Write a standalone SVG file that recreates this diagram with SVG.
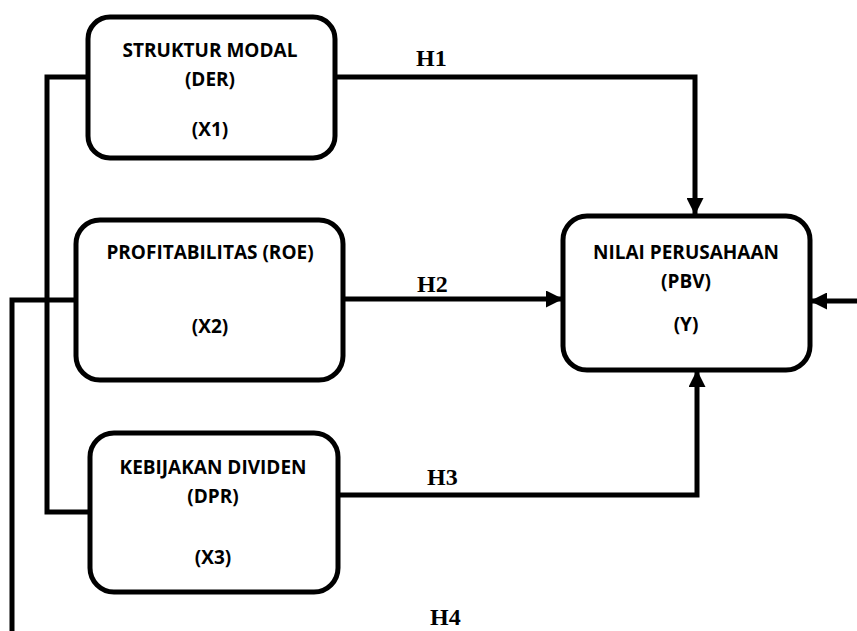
<svg xmlns="http://www.w3.org/2000/svg" width="857" height="631" viewBox="0 0 857 631">
<style>
.box{fill:#fff;stroke:#000;stroke-width:5}
.t{font-family:"Open Sans","Liberation Sans",sans-serif;font-weight:bold;font-size:19px;text-anchor:middle;fill:#000}
.h{font-family:"Liberation Serif",serif;font-weight:bold;font-size:24px;fill:#000}
.c{fill:none;stroke:#000;stroke-width:5}
</style>
<defs>
<marker id="arr" viewBox="0 0 10 10" refX="10" refY="5" markerWidth="3.4" markerHeight="3.4" orient="auto" markerUnits="strokeWidth">
<path d="M0,0 L10,5 L0,10 z" fill="#000"/>
</marker>
</defs>
<rect width="857" height="631" fill="#fff"/>
<g id="connectors">
<polyline class="c" points="88,77 47,77 47,512 90,512"/>
<polyline class="c" points="76,300 12,300 12,631"/>
<polyline class="c" points="335,77 695,77 695,215" marker-end="url(#arr)"/>
<line class="c" x1="343" y1="299" x2="563" y2="299" marker-end="url(#arr)"/>
<polyline class="c" points="338,495 697,495 697,370" marker-end="url(#arr)"/>
<line class="c" x1="857" y1="301" x2="810" y2="301" marker-end="url(#arr)"/>
<text class="h" x="416" y="66">H1</text>
<text class="h" x="417" y="292">H2</text>
<text class="h" x="427" y="485">H3</text>
<text class="h" x="430" y="625">H4</text>
</g>
<g id="x1">
<rect class="box" x="88" y="17" width="247" height="141" rx="22"/>
<text class="t" x="210" y="57">STRUKTUR MODAL</text>
<text class="t" x="210" y="86">(DER)</text>
<text class="t" x="210" y="136">(X1)</text>
</g>
<g id="x2">
<rect class="box" x="76" y="220" width="267" height="160" rx="24"/>
<text class="t" x="210" y="259">PROFITABILITAS (ROE)</text>
<text class="t" x="210" y="333">(X2)</text>
</g>
<g id="x3">
<rect class="box" x="90" y="433" width="248" height="159" rx="24"/>
<text class="t" x="213" y="474">KEBIJAKAN DIVIDEN</text>
<text class="t" x="213" y="503">(DPR)</text>
<text class="t" x="213" y="564">(X3)</text>
</g>
<g id="y">
<rect class="box" x="563" y="216" width="247" height="154" rx="24"/>
<text class="t" x="686" y="259">NILAI PERUSAHAAN</text>
<text class="t" x="686" y="288">(PBV)</text>
<text class="t" x="686" y="331">(Y)</text>
</g>
</svg>
